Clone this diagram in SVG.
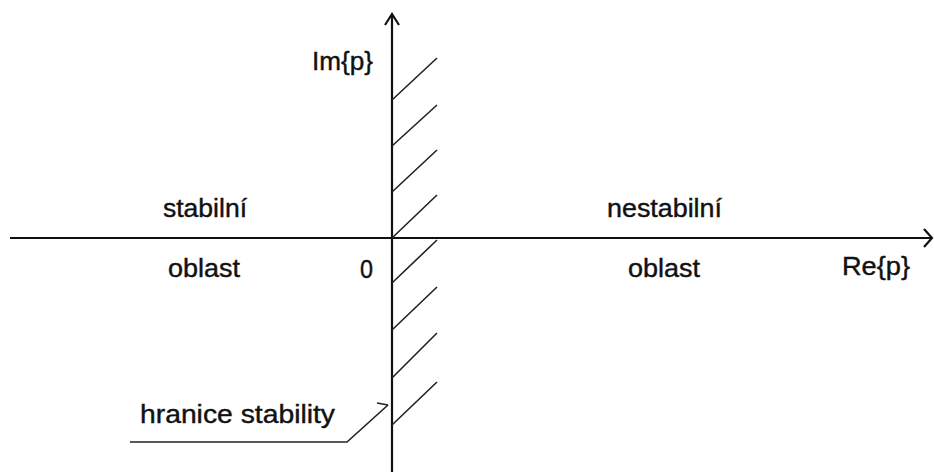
<svg xmlns="http://www.w3.org/2000/svg" width="934" height="472" viewBox="0 0 934 472">
<style>
.ax{stroke:#111;stroke-width:2.2;fill:none}
.h{stroke:#222;stroke-width:1.6;fill:none}
.t{font-family:"Liberation Sans",Arial,sans-serif;font-size:25px;fill:#111;stroke:#111;stroke-width:0.4}
</style>
<rect width="934" height="472" fill="#fff"/>
<g id="axes">
<path class="ax" d="M10 238 H932"/>
<path class="ax" d="M924 229 L932 238 L924 247"/>
<path class="ax" d="M392 472 V15"/>
<path class="ax" d="M385 25 L392 14 L399 25"/>
</g>
<g id="hatching">
<path class="h" d="M392 100 L437 58 M392 146 L437 105 M392 192 L437 150 M392 238 L437 195 M392 283 L437 240 M392 330 L437 287 M392 378 L437 333 M392 425 L437 382"/>
</g>
<g id="leader">
<path class="h" d="M130 442 H347 L388 405 M377 403 L388 405"/>
</g>
<g id="labels">
<text class="t" x="312" y="70" textLength="61" lengthAdjust="spacingAndGlyphs">Im{p}</text>
<text class="t" x="163" y="217" textLength="84" lengthAdjust="spacingAndGlyphs">stabilní</text>
<text class="t" x="168" y="277" textLength="72" lengthAdjust="spacingAndGlyphs">oblast</text>
<text class="t" x="360" y="278" textLength="13" lengthAdjust="spacingAndGlyphs">0</text>
<text class="t" x="607" y="217" textLength="115" lengthAdjust="spacingAndGlyphs">nestabilní</text>
<text class="t" x="628" y="277" textLength="72" lengthAdjust="spacingAndGlyphs">oblast</text>
<text class="t" x="842" y="275" textLength="68" lengthAdjust="spacingAndGlyphs">Re{p}</text>
<text class="t" x="140" y="423" textLength="195" lengthAdjust="spacingAndGlyphs">hranice stability</text>
</g>
</svg>
